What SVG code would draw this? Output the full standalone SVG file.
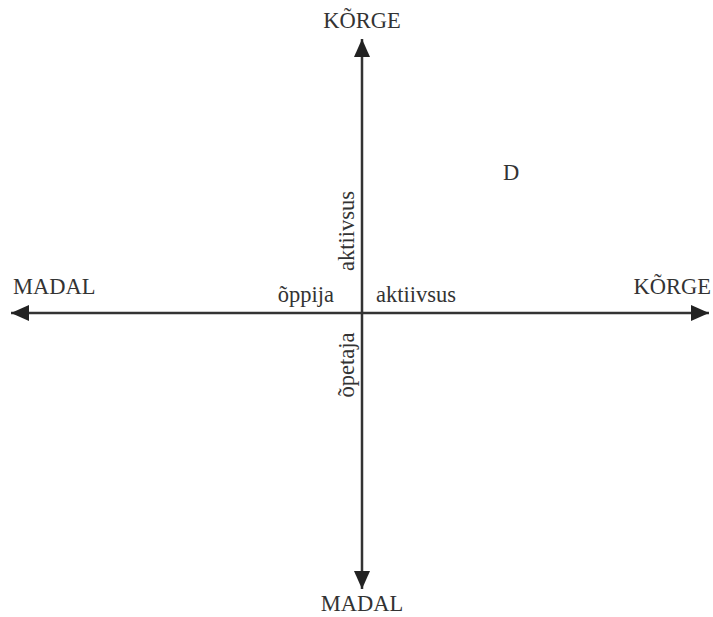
<svg xmlns="http://www.w3.org/2000/svg" width="713" height="617" viewBox="0 0 713 617">
<defs>
<marker id="arr" markerUnits="userSpaceOnUse" markerWidth="20" markerHeight="16" refX="18" refY="8" orient="auto">
<path d="M0,0 L18,8 L0,16 Z" fill="#222"/>
</marker>
<style>
text{font-family:'Liberation Serif','Times New Roman',serif;font-size:22.5px;fill:#333}
.ax{stroke:#333;stroke-width:2.5;fill:none}
</style>
</defs>
<rect width="713" height="617" fill="#fff"/>
<g id="connectors">
<line class="ax" x1="362" y1="313" x2="362" y2="39" marker-end="url(#arr)"/>
<line class="ax" x1="362" y1="313" x2="362" y2="589" marker-end="url(#arr)"/>
<line class="ax" x1="362" y1="313" x2="11" y2="313" marker-end="url(#arr)"/>
<line class="ax" x1="362" y1="313" x2="709" y2="313" marker-end="url(#arr)"/>
</g>
<g id="top-label"><text x="362" y="28" text-anchor="middle">KÕRGE</text></g>
<g id="bottom-label"><text x="362" y="611" text-anchor="middle">MADAL</text></g>
<g id="left-label"><text x="13" y="294">MADAL</text></g>
<g id="right-label"><text x="711" y="294" text-anchor="end">KÕRGE</text></g>
<g id="oppija"><text x="334" y="302" text-anchor="end">õppija</text></g>
<g id="aktiivsus-h"><text x="376" y="302">aktiivsus</text></g>
<g id="aktiivsus-v"><text transform="translate(354,231) rotate(-90)" text-anchor="middle">aktiivsus</text></g>
<g id="opetaja-v"><text transform="translate(354,365) rotate(-90)" text-anchor="middle">õpetaja</text></g>
<g id="D"><text x="511" y="180" text-anchor="middle">D</text></g>
</svg>
